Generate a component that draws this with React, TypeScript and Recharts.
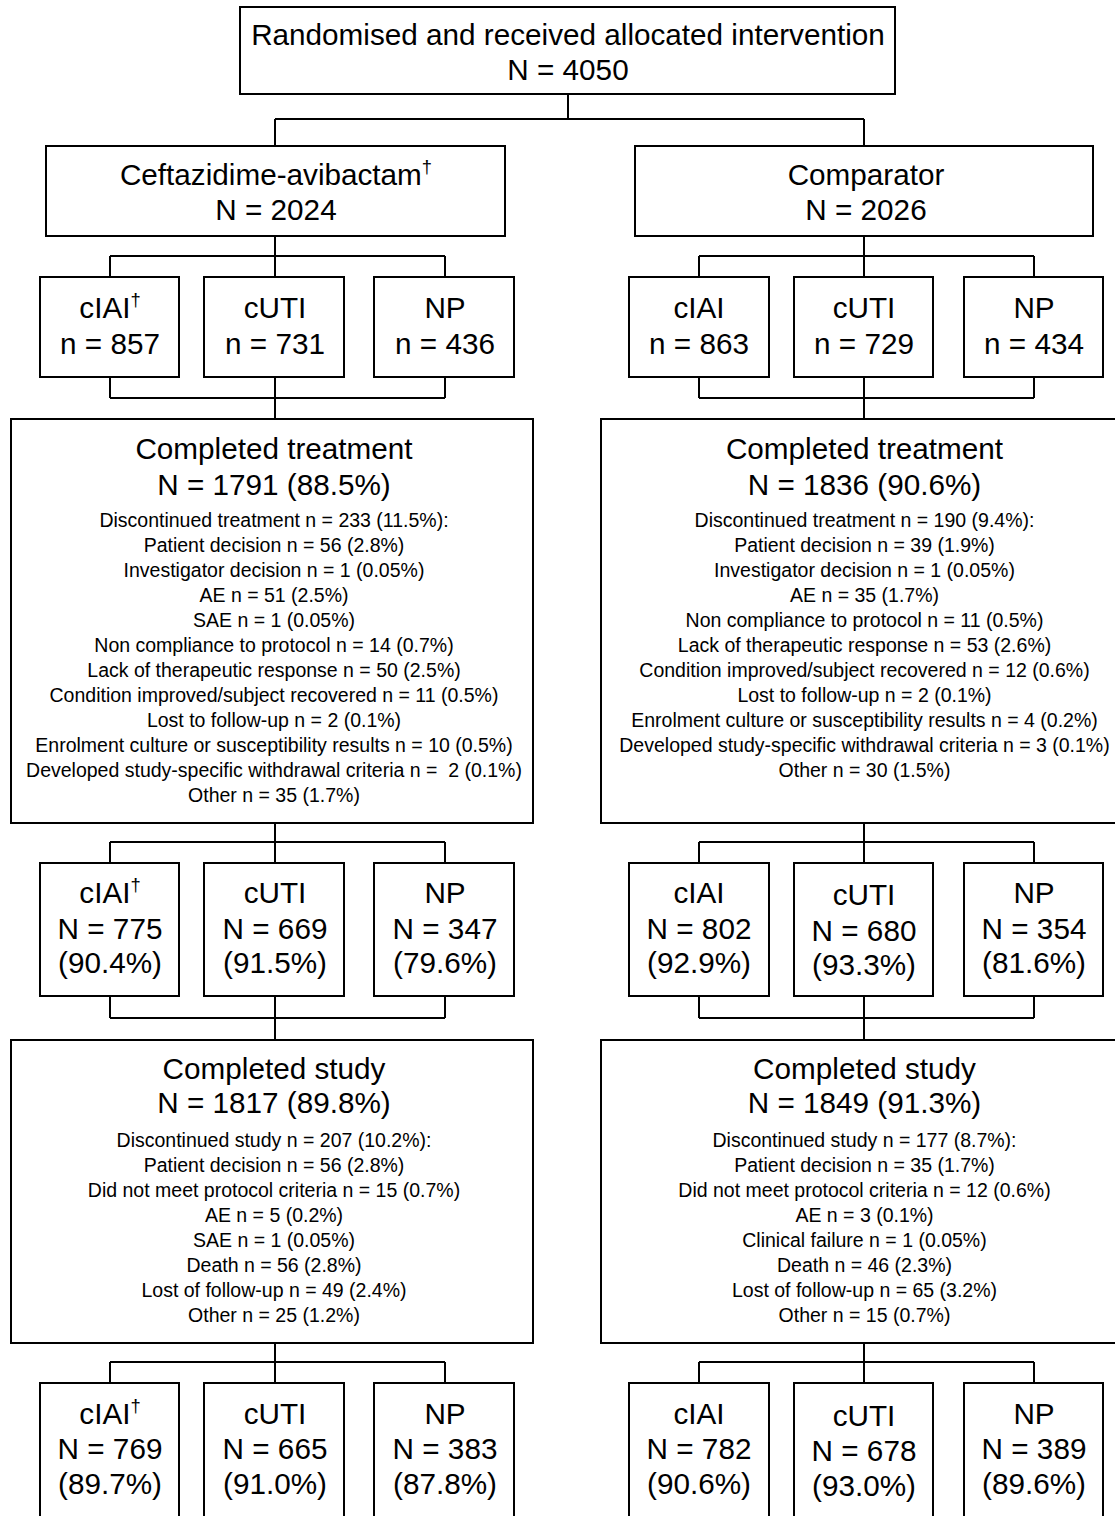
import React from 'react';
import { ScatterChart, Scatter, XAxis, YAxis, ReferenceArea, ReferenceLine } from 'recharts';

// ---------------- DATA ----------------
const totalN = 4050;
const armNames = ['Ceftazidime-avibactam', 'Comparator'];
const armDagger = [true, false];
const armN = [2024, 2026];
const indications = ['cIAI', 'cUTI', 'NP'];
const randomisedCounts = [[857, 731, 436], [863, 729, 434]];

const completedTreatmentN = [1791, 1836];
const completedTreatmentPct = ['88.5', '90.6'];
const treatmentCounts = [[775, 669, 347], [802, 680, 354]];
const treatmentPct = [['90.4', '91.5', '79.6'], ['92.9', '93.3', '81.6']];

const completedStudyN = [1817, 1849];
const completedStudyPct = ['89.8', '91.3'];
const studyCounts = [[769, 665, 383], [782, 678, 389]];
const studyPct = [['89.7', '91.0', '87.8'], ['90.6', '93.0', '89.6']];

const treatmentReasonsA = [
  'Discontinued treatment n = 233 (11.5%):',
  'Patient decision n = 56 (2.8%)',
  'Investigator decision n = 1 (0.05%)',
  'AE n = 51 (2.5%)',
  'SAE n = 1 (0.05%)',
  'Non compliance to protocol n = 14 (0.7%)',
  'Lack of therapeutic response n = 50 (2.5%)',
  'Condition improved/subject recovered n = 11 (0.5%)',
  'Lost to follow-up n = 2 (0.1%)',
  'Enrolment culture or susceptibility results n = 10 (0.5%)',
  'Developed study-specific withdrawal criteria n =  2 (0.1%)',
  'Other n = 35 (1.7%)',
];
const treatmentReasonsB = [
  'Discontinued treatment n = 190 (9.4%):',
  'Patient decision n = 39 (1.9%)',
  'Investigator decision n = 1 (0.05%)',
  'AE n = 35 (1.7%)',
  'Non compliance to protocol n = 11 (0.5%)',
  'Lack of therapeutic response n = 53 (2.6%)',
  'Condition improved/subject recovered n = 12 (0.6%)',
  'Lost to follow-up n = 2 (0.1%)',
  'Enrolment culture or susceptibility results n = 4 (0.2%)',
  'Developed study-specific withdrawal criteria n = 3 (0.1%)',
  'Other n = 30 (1.5%)',
];
const studyReasonsA = [
  'Discontinued study n = 207 (10.2%):',
  'Patient decision n = 56 (2.8%)',
  'Did not meet protocol criteria n = 15 (0.7%)',
  'AE n = 5 (0.2%)',
  'SAE n = 1 (0.05%)',
  'Death n = 56 (2.8%)',
  'Lost of follow-up n = 49 (2.4%)',
  'Other n = 25 (1.2%)',
];
const studyReasonsB = [
  'Discontinued study n = 177 (8.7%):',
  'Patient decision n = 35 (1.7%)',
  'Did not meet protocol criteria n = 12 (0.6%)',
  'AE n = 3 (0.1%)',
  'Clinical failure n = 1 (0.05%)',
  'Death n = 46 (2.3%)',
  'Lost of follow-up n = 65 (3.2%)',
  'Other n = 15 (0.7%)',
];
const treatmentReasons = [treatmentReasonsA, treatmentReasonsB];
const studyReasons = [studyReasonsA, studyReasonsB];

// ---------------- LAYOUT (axis units) ----------------
const W = 1115;
const H = 1516;
const FONT = '"Liberation Sans", Arial, Helvetica, sans-serif';
const BIG = 29.7;
const SMALL = 19.5;

const topBox = { x1: 240, x2: 895, y1: 7, y2: 94, cx: 568 };
const armCentres = [275, 864];
const armBoxX = [[46, 505], [635, 1093]];
const armBoxY = [146, 236];
const smallBoxX = [
  [[40, 179], [204, 344], [374, 514]],
  [[629, 769], [794, 933], [964, 1103]],
];
const smallCentres = [[110, 275, 445], [699, 864, 1034]];
const bigBoxX = [[11, 533], [601, 1130]];
const row1Y = [277, 377];
const treatBoxY = [419, 823];
const row2Y = [863, 996];
const studyBoxY = [1040, 1343];
const row3Y = [1383, 1540];
const splitTop = 119;
const conn = { armDown: 256, row1Down: 398, treatDown: 842, row2Down: 1018, studyDown: 1362 };
const textCentre = [[276, 866], [274, 864.5]];
const yTop = [45, 80];
const yArm = [185, 220];
const yRow1 = [318, 354];
const yTreatHead = [459, 495];
const yTreatFirst = 527;
const yRow2 = [903, 939, 973];
const yStudyHead = [1079, 1113];
const yStudyFirst = 1147;
const yRow3 = [1424, 1459, 1494];
const lineStep = 25;
const rowShift = [[0, 0, 0], [0, 2, 0]];

// ---------------- BUILD ----------------
type Node = { x: number; y: number; label: string; size: number; dagger?: boolean };
const nodes: Node[] = [];
nodes.push({ x: topBox.cx, y: yTop[0], label: 'Randomised and received allocated intervention', size: BIG });
nodes.push({ x: topBox.cx, y: yTop[1], label: `N = ${totalN}`, size: BIG });

type Seg = [number, number, number, number];
const segs: Seg[] = [];
type Box = [number, number, number, number];
const boxes: Box[] = [[topBox.x1, topBox.x2, topBox.y1, topBox.y2]];

segs.push([topBox.cx, topBox.y2, topBox.cx, splitTop]);
segs.push([armCentres[0], splitTop, armCentres[1], splitTop]);

for (let a = 0; a < 2; a++) {
  const c = armCentres[a];
  const hc = textCentre[0][a];
  const bc = textCentre[1][a];
  segs.push([c, splitTop, c, armBoxY[0]]);
  boxes.push([armBoxX[a][0], armBoxX[a][1], armBoxY[0], armBoxY[1]]);
  nodes.push({ x: hc, y: yArm[0], label: armNames[a], size: BIG, dagger: armDagger[a] });
  nodes.push({ x: hc, y: yArm[1], label: `N = ${armN[a]}`, size: BIG });

  const sc = smallCentres[a];
  const fan = (fromY: number, midY: number, toY: number) => {
    segs.push([c, fromY, c, midY]);
    segs.push([sc[0], midY, sc[2], midY]);
    sc.forEach((x) => segs.push([x, midY, x, toY]));
  };
  const fanIn = (fromY: number, midY: number, toY: number) => {
    sc.forEach((x) => segs.push([x, fromY, x, midY]));
    segs.push([sc[0], midY, sc[2], midY]);
    segs.push([c, midY, c, toY]);
  };
  fan(armBoxY[1], conn.armDown, row1Y[0]);
  fanIn(row1Y[1], conn.row1Down, treatBoxY[0]);
  fan(treatBoxY[1], conn.treatDown, row2Y[0]);
  fanIn(row2Y[1], conn.row2Down, studyBoxY[0]);
  fan(studyBoxY[1], conn.studyDown, row3Y[0]);

  boxes.push([bigBoxX[a][0], bigBoxX[a][1], treatBoxY[0], treatBoxY[1]]);
  boxes.push([bigBoxX[a][0], bigBoxX[a][1], studyBoxY[0], studyBoxY[1]]);

  nodes.push({ x: bc, y: yTreatHead[0], label: 'Completed treatment', size: BIG });
  nodes.push({ x: bc, y: yTreatHead[1], label: `N = ${completedTreatmentN[a]} (${completedTreatmentPct[a]}%)`, size: BIG });
  treatmentReasons[a].forEach((r, k) => nodes.push({ x: bc, y: yTreatFirst + k * lineStep, label: r, size: SMALL }));

  nodes.push({ x: bc, y: yStudyHead[0], label: 'Completed study', size: BIG });
  nodes.push({ x: bc, y: yStudyHead[1], label: `N = ${completedStudyN[a]} (${completedStudyPct[a]}%)`, size: BIG });
  studyReasons[a].forEach((r, k) => nodes.push({ x: bc, y: yStudyFirst + k * lineStep, label: r, size: SMALL }));

  for (let i = 0; i < 3; i++) {
    const [x1, x2] = smallBoxX[a][i];
    const x = sc[i];
    const dag = armDagger[a] && i === 0;
    const d = rowShift[a][i];
    boxes.push([x1, x2, row1Y[0], row1Y[1]]);
    boxes.push([x1, x2, row2Y[0], row2Y[1]]);
    boxes.push([x1, x2, row3Y[0], row3Y[1]]);
    nodes.push({ x, y: yRow1[0], label: indications[i], size: BIG, dagger: dag });
    nodes.push({ x, y: yRow1[1], label: `n = ${randomisedCounts[a][i]}`, size: BIG });
    nodes.push({ x, y: yRow2[0] + d, label: indications[i], size: BIG, dagger: dag });
    nodes.push({ x, y: yRow2[1] + d, label: `N = ${treatmentCounts[a][i]}`, size: BIG });
    nodes.push({ x, y: yRow2[2] + d, label: `(${treatmentPct[a][i]}%)`, size: BIG });
    nodes.push({ x, y: yRow3[0] + d, label: indications[i], size: BIG, dagger: dag });
    nodes.push({ x, y: yRow3[1] + d, label: `N = ${studyCounts[a][i]}`, size: BIG });
    nodes.push({ x, y: yRow3[2] + d, label: `(${studyPct[a][i]}%)`, size: BIG });
  }
}

const renderText = (props: any) => {
  const { cx, cy, payload } = props;
  if (cx == null || cy == null) return <g />;
  return (
    <text
      x={cx}
      y={cy}
      textAnchor="middle"
      fontSize={payload.size}
      fontFamily={FONT}
      fill="#000"
      style={{ whiteSpace: 'pre' }}
    >
      {payload.label}
      {payload.dagger ? (
        <tspan fontSize={payload.size * 0.62} dy={-payload.size * 0.4}>
          {'\u2020'}
        </tspan>
      ) : null}
    </text>
  );
};

export default function App() {
  return (
    <div style={{ position: 'absolute', left: 0, top: 0, width: W, height: H, background: '#fff' }}>
      <ScatterChart width={W} height={H} margin={{ top: 0, right: 0, bottom: 0, left: 0 }}>
        <XAxis type="number" dataKey="x" domain={[0, W]} hide allowDataOverflow />
        <YAxis type="number" dataKey="y" domain={[0, H]} reversed hide allowDataOverflow />
        {boxes.map((b, i) => (
          <ReferenceArea
            key={`b${i}`}
            x1={b[0]}
            x2={b[1]}
            y1={b[2]}
            y2={b[3]}
            fill="none"
            fillOpacity={0}
            stroke="#000"
            strokeWidth={2}
            strokeOpacity={1}
            ifOverflow="visible"
          />
        ))}
        {segs.map((s, i) => (
          <ReferenceLine
            key={`s${i}`}
            segment={[{ x: s[0], y: s[1] }, { x: s[2], y: s[3] }]}
            stroke="#000"
            strokeWidth={2}
            ifOverflow="visible"
          />
        ))}
        <Scatter data={nodes} shape={renderText} isAnimationActive={false} />
      </ScatterChart>
    </div>
  );
}
